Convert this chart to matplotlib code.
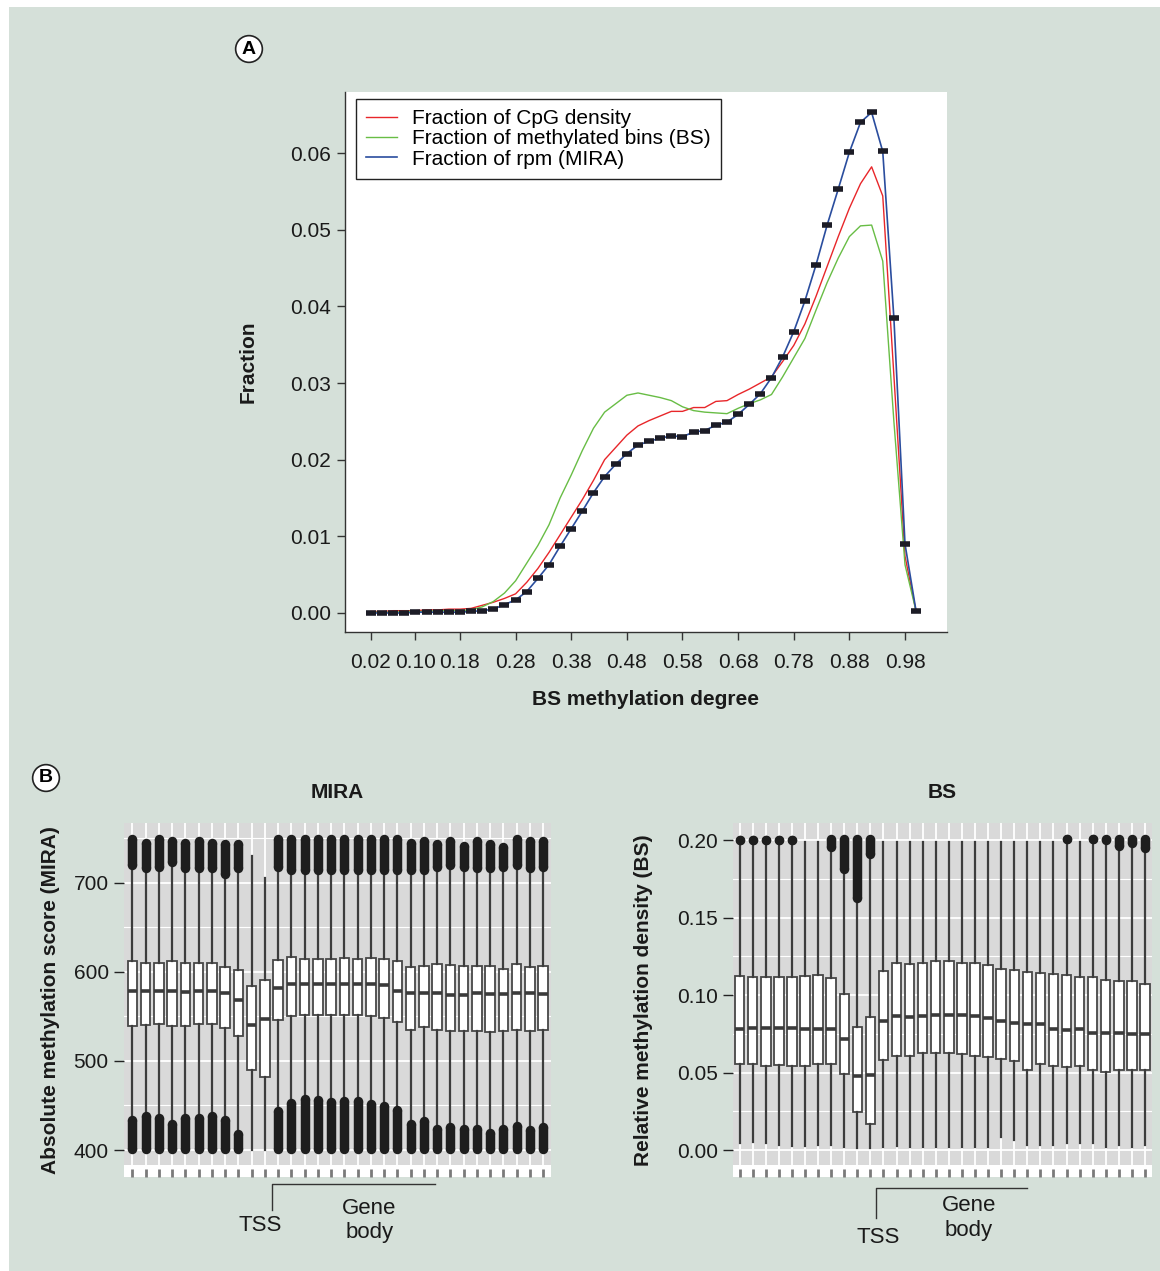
import numpy as np
import matplotlib
matplotlib.use('Agg')
import matplotlib.pyplot as plt
from matplotlib.patches import Rectangle
import matplotlib.transforms as mtransforms

plt.rcParams['font.family'] = ['Liberation Sans', 'DejaVu Sans']

# ---------------- panel A data ----------------
bs_degree = [0.02, 0.04, 0.06, 0.08, 0.10, 0.12, 0.14, 0.16, 0.18, 0.20,
             0.22, 0.24, 0.26, 0.28, 0.30, 0.32, 0.34, 0.36, 0.38, 0.40,
             0.42, 0.44, 0.46, 0.48, 0.50, 0.52, 0.54, 0.56, 0.58, 0.60,
             0.62, 0.64, 0.66, 0.68, 0.70, 0.72, 0.74, 0.76, 0.78, 0.80,
             0.82, 0.84, 0.86, 0.88, 0.90, 0.92, 0.94, 0.96, 0.98, 1.00]
frac_cpg = [0.0002, 0.0002, 0.0003, 0.0003, 0.0003, 0.0004, 0.0004, 0.0005, 0.0005, 0.0006,
            0.0010, 0.0014, 0.0019, 0.0025, 0.0040, 0.0058, 0.0079, 0.0102, 0.0125, 0.0148,
            0.0173, 0.0200, 0.0216, 0.0232, 0.0244, 0.0251, 0.0257, 0.0263, 0.0263, 0.0268,
            0.0268, 0.0276, 0.0277, 0.0285, 0.0292, 0.0300, 0.0308, 0.0328, 0.0349, 0.0377,
            0.0413, 0.0452, 0.0491, 0.0528, 0.0560, 0.0582, 0.0544, 0.0310, 0.0074, 0.0002]
frac_bs = [0.0001, 0.0001, 0.0001, 0.0002, 0.0002, 0.0002, 0.0003, 0.0003, 0.0003, 0.0004,
           0.0008, 0.0015, 0.0026, 0.0042, 0.0065, 0.0088, 0.0115, 0.0150, 0.0180, 0.0212,
           0.0241, 0.0262, 0.0273, 0.0284, 0.0287, 0.0284, 0.0281, 0.0277, 0.0269, 0.0264,
           0.0262, 0.0261, 0.0260, 0.0267, 0.0273, 0.0278, 0.0285, 0.0308, 0.0333, 0.0358,
           0.0395, 0.0431, 0.0463, 0.0491, 0.0505, 0.0506, 0.0459, 0.0250, 0.0063, 0.0002]
frac_mira = [0.0000, 0.0000, 0.0000, 0.0000, 0.0001, 0.0001, 0.0001, 0.0001, 0.0001, 0.0002,
             0.0003, 0.0005, 0.0011, 0.0017, 0.0028, 0.0045, 0.0063, 0.0087, 0.0110, 0.0133,
             0.0157, 0.0178, 0.0194, 0.0208, 0.0219, 0.0224, 0.0228, 0.0231, 0.0230, 0.0236,
             0.0238, 0.0245, 0.0249, 0.0259, 0.0272, 0.0286, 0.0307, 0.0334, 0.0367, 0.0407,
             0.0454, 0.0506, 0.0553, 0.0601, 0.0640, 0.0653, 0.0602, 0.0385, 0.0090, 0.0002]
x_ticks_a = [0.02, 0.10, 0.18, 0.28, 0.38, 0.48, 0.58, 0.68, 0.78, 0.88, 0.98]

# ---------------- panel B data (MIRA) ----------------
mira_q3 = [611.6, 609.7, 609.7, 612.0, 609.7, 610.0, 610.0, 605.0, 601.5, 584.6, 591.0,
           613.5, 616.5, 614.0, 614.0, 614.0, 615.0, 614.0, 615.0, 614.0, 611.6, 605.0,
           607.0, 609.0, 608.0, 607.0, 607.0, 607.0, 603.0, 609.0, 605.0, 606.0]
mira_med = [579.0, 579.0, 578.0, 578.0, 576.8, 578.0, 578.0, 576.0, 568.5, 540.4, 547.0,
            581.6, 586.5, 586.5, 586.5, 586.5, 586.5, 586.5, 586.5, 585.0, 579.0, 576.0,
            576.0, 576.0, 574.0, 574.0, 576.0, 575.0, 575.0, 576.0, 576.0, 575.0]
mira_q1 = [539.7, 540.4, 541.6, 539.0, 539.7, 541.6, 541.0, 537.0, 528.0, 490.0, 482.4,
           546.0, 550.6, 551.0, 551.0, 551.0, 551.0, 551.0, 550.0, 548.7, 544.0, 535.0,
           538.0, 535.0, 534.0, 533.0, 534.0, 532.0, 533.0, 535.0, 533.0, 535.0]
mira_top_hi = [749, 745, 749, 747, 745, 747, 745, 743, 743, np.nan, np.nan,
               749, 749, 749, 749, 749, 749, 749, 749, 749, 749, 744,
               747, 743, 747, 741, 747, 743, 740, 749, 747, 747]
mira_top_lo = [720, 716, 718, 723, 716, 716, 716, 710, 716, np.nan, np.nan,
               718, 714, 714, 714, 714, 714, 714, 714, 714, 714, 714,
               714, 718, 720, 718, 716, 716, 718, 720, 716, 718]
mira_bot_hi = [434, 438, 436, 429, 436, 436, 438, 434, 417.5, np.nan, np.nan,
               444, 453, 457, 456, 454, 455, 455, 452, 449, 445, 429,
               433, 424, 426, 424, 424, 419, 424, 427, 423, 426]
mira_bot_lo = [401, 401, 401, 401, 401, 401, 401, 401, 401, np.nan, np.nan,
               401, 401, 401, 401, 401, 401, 401, 401, 401, 401, 401,
               401, 401, 401, 401, 401, 401, 401, 401, 401, 401]
mira_whis_hi = [720, 716, 718, 723, 716, 716, 716, 710, 716, 729.6, 705,
                718, 714, 714, 714, 714, 714, 714, 714, 714, 714, 714,
                714, 718, 720, 718, 716, 716, 718, 720, 716, 718]
mira_whis_lo = [434, 438, 436, 429, 436, 436, 438, 434, 417.5, 400, 400,
                444, 453, 457, 456, 454, 455, 455, 452, 449, 445, 429,
                433, 424, 426, 424, 424, 419, 424, 427, 423, 426]

# ---------------- panel B data (BS) ----------------
bs_q3 = [0.1126, 0.1119, 0.1115, 0.1119, 0.1119, 0.1124, 0.1130, 0.1107, 0.1009, 0.0793, 0.0859,
         0.1156, 0.1209, 0.1200, 0.1209, 0.1222, 0.1222, 0.1209, 0.1209, 0.1194, 0.1168, 0.1162,
         0.1151, 0.1145, 0.1136, 0.1130, 0.1115, 0.1115, 0.1094, 0.1092, 0.1090, 0.1072]
bs_med = [0.0778, 0.0789, 0.0789, 0.0789, 0.0789, 0.0778, 0.0783, 0.0783, 0.0714, 0.0480, 0.0484,
          0.0832, 0.0864, 0.0860, 0.0864, 0.0874, 0.0874, 0.0874, 0.0864, 0.0853, 0.0832, 0.0821,
          0.0810, 0.0810, 0.0778, 0.0774, 0.0778, 0.0757, 0.0757, 0.0757, 0.0746, 0.0746]
bs_q1 = [0.0554, 0.0554, 0.0544, 0.0548, 0.0544, 0.0544, 0.0554, 0.0554, 0.0490, 0.0245, 0.0171,
         0.0580, 0.0608, 0.0608, 0.0623, 0.0623, 0.0623, 0.0618, 0.0608, 0.0603, 0.0590, 0.0576,
         0.0518, 0.0554, 0.0539, 0.0533, 0.0544, 0.0518, 0.0505, 0.0518, 0.0518, 0.0518]
bs_whis_hi = [0.2000, 0.2000, 0.2000, 0.2000, 0.2000, 0.1990, 0.1990, 0.1930, 0.1780, 0.1600, 0.1880,
              0.1990, 0.1990, 0.1990, 0.1990, 0.1990, 0.1990, 0.1990, 0.1990, 0.1990, 0.1990, 0.1990,
              0.1990, 0.1990, 0.1990, 0.2000, 0.1990, 0.2000, 0.2000, 0.1960, 0.1980, 0.1950]
bs_whis_lo = [0.0043, 0.0053, 0.0043, 0.0032, 0.0028, 0.0028, 0.0032, 0.0032, 0.0021, 0.0015, 0.0015,
              0.0021, 0.0028, 0.0021, 0.0021, 0.0021, 0.0021, 0.0021, 0.0021, 0.0021, 0.0081, 0.0064,
              0.0032, 0.0032, 0.0032, 0.0043, 0.0043, 0.0043, 0.0021, 0.0032, 0.0021, 0.0032]
bs_out_hi = [0.2000, 0.2000, 0.2000, 0.2000, 0.2000, np.nan, np.nan, 0.2007, 0.2007, 0.2007, 0.2007,
             np.nan, np.nan, np.nan, np.nan, np.nan, np.nan, np.nan, np.nan, np.nan, np.nan, np.nan,
             np.nan, np.nan, np.nan, 0.2004, np.nan, 0.2004, 0.2004, 0.2007, 0.2007, 0.2007]
bs_out_lo = [0.2000, 0.2000, 0.2000, 0.2000, 0.2000, np.nan, np.nan, 0.1958, 0.1810, 0.1628, 0.1911,
             np.nan, np.nan, np.nan, np.nan, np.nan, np.nan, np.nan, np.nan, np.nan, np.nan, np.nan,
             np.nan, np.nan, np.nan, 0.2004, np.nan, 0.2004, 0.2000, 0.1960, 0.1980, 0.1950]

BG = '#d5e0d9'
PANEL = '#d9d9d9'
BOXC = '#474747'
DOT = '#1e1e1e'
FS = 15

fig = plt.figure(figsize=(11.6, 12.71), dpi=100, facecolor='white')
fig.patches.append(Rectangle((9 / 1160, 0), 1, 1 - 7 / 1271, transform=fig.transFigure,
                             facecolor=BG, edgecolor='none', zorder=-10))

# ---------------- panel A ----------------
ax = fig.add_axes([345 / 1160, 1 - 632 / 1271, 602 / 1160, 540 / 1271])
ax.set_facecolor('white')
ax.plot(bs_degree, frac_cpg, color='#e8262a', lw=1.0, label='Fraction of CpG density')
ax.plot(bs_degree, frac_bs, color='#68bd45', lw=1.0, label='Fraction of methylated bins (BS)')
ax.plot(bs_degree, frac_mira, color='#2a4d9e', lw=1.2, label='Fraction of rpm (MIRA)')
ax.plot(bs_degree, frac_mira, ls='none', marker='_', ms=7.5, mew=4, color='#1c1c26', zorder=4)
ax.set_xlim(-0.0267, 1.0555)
ax.set_ylim(-0.00248, 0.06796)
ax.set_xticks(x_ticks_a)
ax.set_xticklabels(['%.2f' % v for v in x_ticks_a])
ax.set_yticks([0.00, 0.01, 0.02, 0.03, 0.04, 0.05, 0.06])
ax.set_yticklabels(['0.00', '0.01', '0.02', '0.03', '0.04', '0.05', '0.06'])
for s in ['top', 'right']:
    ax.spines[s].set_visible(False)
for s in ['left', 'bottom']:
    ax.spines[s].set_color('#333333')
    ax.spines[s].set_linewidth(1.0)
ax.tick_params(direction='out', length=6, width=1, labelsize=FS, colors='#333333',
               labelcolor='#1a1a1a')
ax.tick_params(axis='x', pad=9)
ax.tick_params(axis='y', pad=4)
ax.set_ylabel('Fraction', fontsize=FS, fontweight='bold', color='#1a1a1a')
ax.yaxis.set_label_coords(-0.145, 0.5)
ax.set_xlabel('BS methylation degree', fontsize=FS, fontweight='bold', color='#1a1a1a')
ax.xaxis.set_label_coords(0.5, -0.107)
leg = ax.legend(loc='upper left', bbox_to_anchor=(0.0183, 0.987), borderaxespad=0,
                fancybox=False, edgecolor='#222222', fontsize=FS, handlelength=1.45,
                handletextpad=0.75, labelspacing=0.05, borderpad=0.5, framealpha=1)
leg.get_frame().set_linewidth(1.0)

fig.text(249 / 1160, 1 - 49 / 1271, 'A', fontsize=14, fontweight='bold', ha='center', va='center',
         bbox=dict(boxstyle='circle,pad=0.25', fc='white', ec='#222222', lw=1.2))
fig.text(46 / 1160, 1 - 778 / 1271, 'B', fontsize=14, fontweight='bold', ha='center', va='center',
         bbox=dict(boxstyle='circle,pad=0.25', fc='white', ec='#222222', lw=1.2))


# ---------------- panel B ----------------
def draw_boxes(ax, q1, med, q3, wlo, whi):
    stats = []
    for i in range(len(med)):
        stats.append(dict(med=med[i], q1=q1[i], q3=q3[i], whislo=wlo[i], whishi=whi[i], fliers=[]))
    pos = np.arange(1, len(med) + 1)
    ax.bxp(stats, positions=pos, widths=0.72, patch_artist=True, showcaps=False, showfliers=False,
           boxprops=dict(facecolor='white', edgecolor=BOXC, linewidth=1.3),
           medianprops=dict(color='#3a3a3a', linewidth=2.6, solid_capstyle='butt'),
           whiskerprops=dict(color='#3d3d3d', linewidth=1.6))
    return pos


def draw_cluster(ax, pos, lo, hi, lw=6.8):
    lo = np.asarray(lo, float)
    hi = np.asarray(hi, float)
    ok = ~np.isnan(lo)
    ax.vlines(pos[ok], lo[ok], hi[ok], colors=DOT, linewidth=lw, zorder=3)
    ax.scatter(pos[ok], lo[ok], s=lw ** 2, color=DOT, zorder=3, linewidths=0)
    ax.scatter(pos[ok], hi[ok], s=lw ** 2, color=DOT, zorder=3, linewidths=0)


def style_panel(ax, ylim, white_top, yticks, ylabels, minor):
    ax.set_facecolor(PANEL)
    ax.set_ylim(*ylim)
    ax.set_axisbelow(True)
    ax.set_yticks(yticks)
    ax.set_yticklabels(ylabels)
    ax.set_yticks(minor, minor=True)
    ax.grid(True, which='major', axis='both', color='white', lw=1.3)
    ax.grid(True, which='minor', axis='y', color='white', lw=0.8)
    ax.axhspan(ylim[0], white_top, color='white', zorder=0.3, lw=0)
    for s in ax.spines.values():
        s.set_visible(False)
    ax.tick_params(axis='y', which='major', direction='out', length=7, width=1, colors='#222222',
                   labelsize=FS, labelcolor='#1a1a1a', pad=4)
    ax.tick_params(axis='y', which='minor', length=0)
    ax.tick_params(axis='x', which='major', direction='in', length=6, width=2.0, colors='#7a7a7a',
                   labelbottom=False)


ax_m = fig.add_axes([124 / 1160, 1 - 1177 / 1271, 427 / 1160, 354 / 1271])
pos = draw_boxes(ax_m, mira_q1, mira_med, mira_q3, mira_whis_lo, mira_whis_hi)
draw_cluster(ax_m, pos, mira_top_lo, mira_top_hi)
draw_cluster(ax_m, pos, mira_bot_lo, mira_bot_hi)
ax_m.set_xlim(0.37, 32.6)
ax_m.set_xticks(pos)
style_panel(ax_m, (369.7, 767), 383, [400, 500, 600, 700], ['400', '500', '600', '700'],
            [450, 550, 650, 750])
ax_m.set_title('MIRA', fontsize=FS, fontweight='bold', pad=18, color='#1a1a1a')
ax_m.set_ylabel('Absolute methylation score (MIRA)', fontsize=FS, fontweight='bold', color='#1a1a1a')
ax_m.yaxis.set_label_coords(-0.150, 0.5)

ax_b = fig.add_axes([733 / 1160, 1 - 1177 / 1271, 419 / 1160, 354 / 1271])
pos = draw_boxes(ax_b, bs_q1, bs_med, bs_q3, bs_whis_lo, bs_whis_hi)
draw_cluster(ax_b, pos, bs_out_lo, bs_out_hi)
ax_b.set_xlim(0.49, 32.54)
ax_b.set_xticks(pos)
style_panel(ax_b, (-0.0174, 0.211), -0.0097, [0.00, 0.05, 0.10, 0.15, 0.20],
            ['0.00', '0.05', '0.10', '0.15', '0.20'], [0.025, 0.075, 0.125, 0.175])
ax_b.set_title('BS', fontsize=FS, fontweight='bold', pad=18, color='#1a1a1a')
ax_b.set_ylabel('Relative methylation density (BS)', fontsize=FS, fontweight='bold', color='#1a1a1a')
ax_b.yaxis.set_label_coords(-0.191, 0.5)


# TSS / gene body brackets
def bracket(ax, x_tss, x_end, y_h, y_v, tss_xy, gene_xy):
    tr = mtransforms.blended_transform_factory(ax.transData, ax.transAxes)
    ax.plot([x_tss, x_tss, x_end], [y_v, y_h, y_h], color='#333333', lw=1.0, transform=tr,
            clip_on=False)
    ax.text(tss_xy[0], tss_xy[1], 'TSS', transform=tr, ha='center', va='center', fontsize=16,
            color='#1a1a1a')
    ax.text(gene_xy[0], gene_xy[1], 'Gene\nbody', transform=tr, ha='center', va='center',
            fontsize=16, color='#1a1a1a', linespacing=1.2)


bracket(ax_m, 11.55, 23.86, -0.0198, -0.093, (10.65, -0.138), (18.88, -0.122))
bracket(ax_b, 11.42, 23.0, -0.031, -0.116, (11.57, -0.172), (18.55, -0.116))

fig.savefig('out.png', dpi=100, facecolor=fig.get_facecolor())
